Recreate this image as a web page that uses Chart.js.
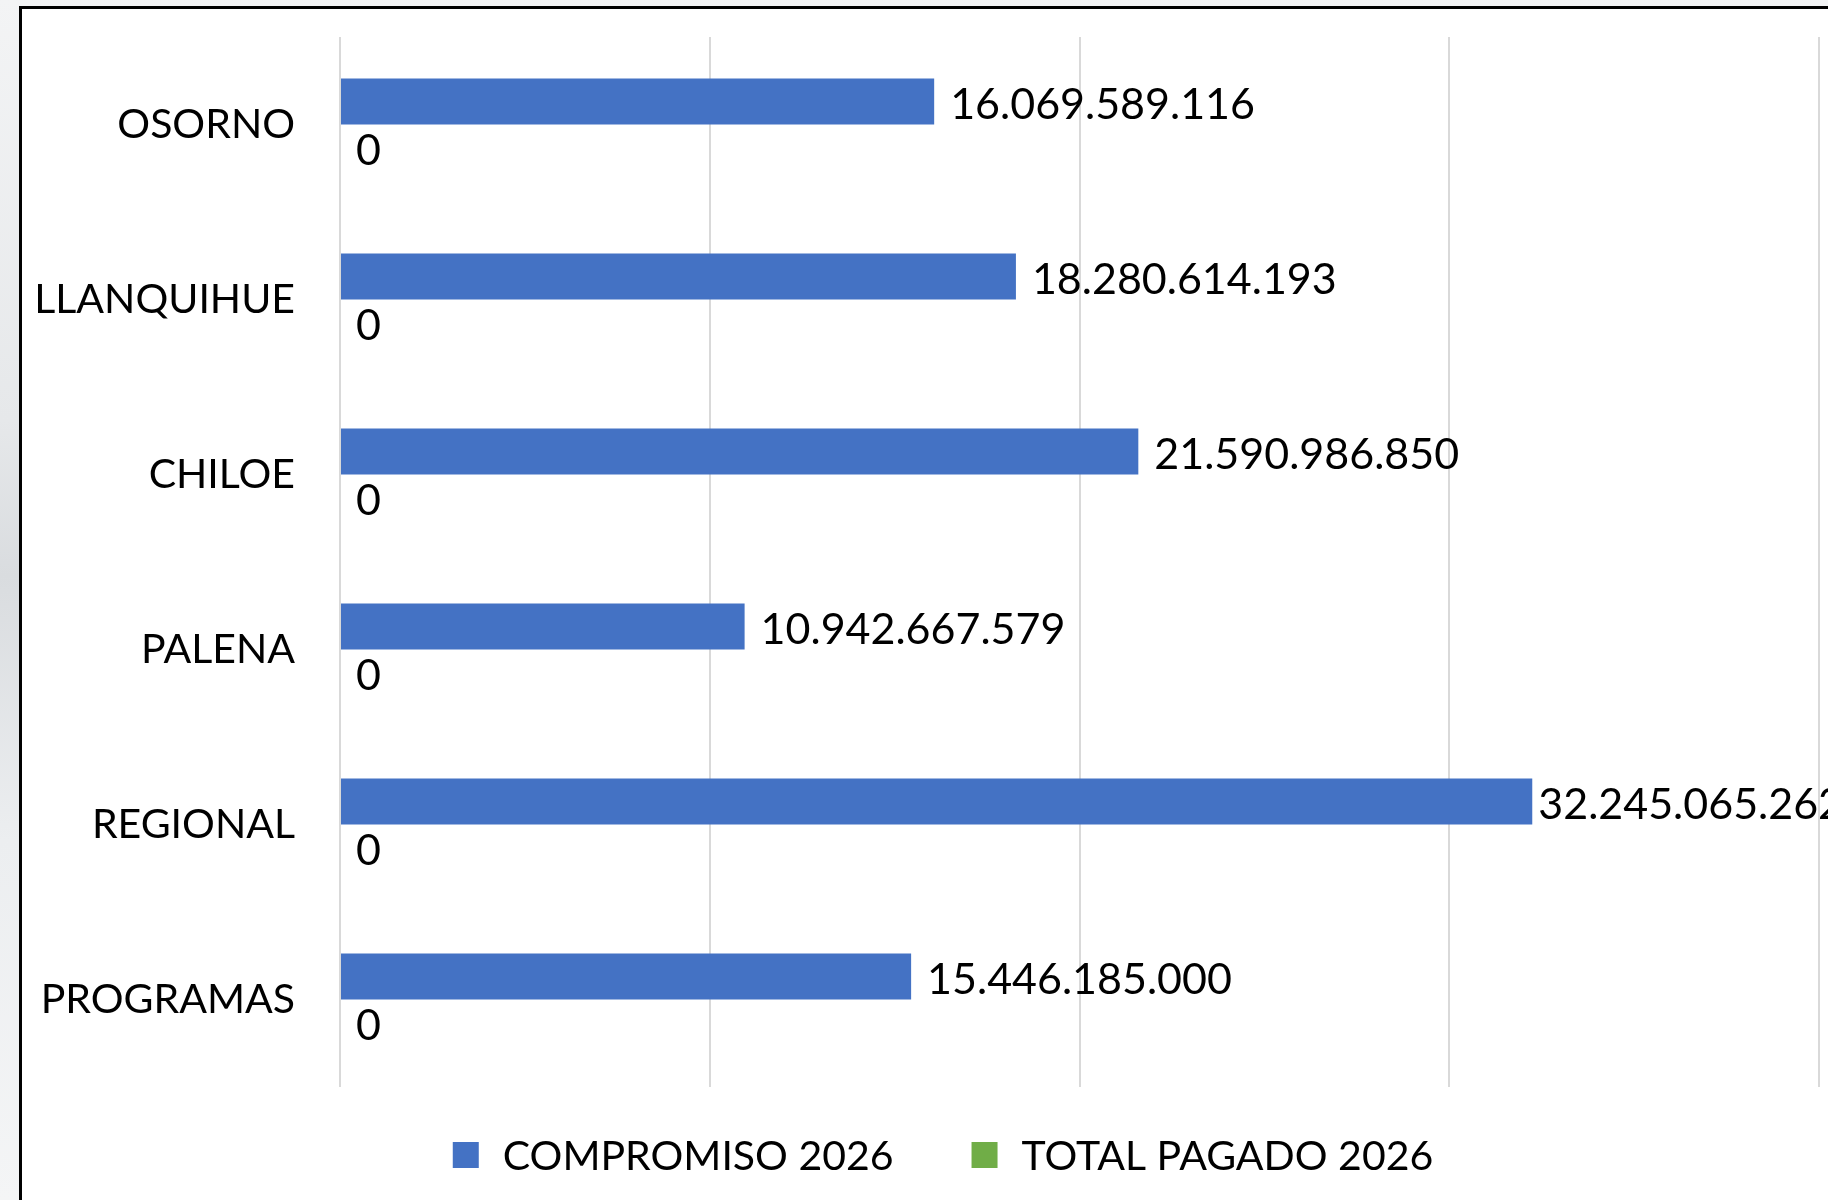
<!DOCTYPE html>
<html>
<head>
<meta charset="utf-8">
<script src="https://cdn.jsdelivr.net/npm/chart.js@4.4.1/dist/chart.umd.min.js"></script>
<style>
    html, body { margin: 0; padding: 0; overflow: hidden; }
    body {
        width: 1828px; height: 1200px;
        background: linear-gradient(to bottom, #f3f4f5 0%, #e6e8ea 35%, #d9dcdf 48%, #eceef0 70%, #f4f5f6 100%);
        position: relative;
    }
    #frame {
        position: absolute; left: 19px; top: 6px; width: 1900px; height: 1300px;
        border-left: 3px solid #000; border-top: 3px solid #000; background: #fff;
    }
    #chart { position: absolute; left: 0; top: 0; }
</style>
</head>
<body>
<div id="frame"></div>
<canvas id="chart" width="1828" height="1200"></canvas>
<script>
var categories = ['OSORNO', 'LLANQUIHUE', 'CHILOE', 'PALENA', 'REGIONAL', 'PROGRAMAS'];
var compromiso2026 = [16069589116, 18280614193, 21590986850, 10942667579, 32245065262, 15446185000];
var pagado2026 = [0, 0, 0, 0, 0, 0];
var seriesNames = ['COMPROMISO 2026', 'TOTAL PAGADO 2026'];
var xTicks = [0, 10000000000, 20000000000, 30000000000, 40000000000];

var FONT = 'Lato, "Open Sans", sans-serif';

function fmt(v) {
    return String(Math.round(v)).replace(/\B(?=(\d{3})+(?!\d))/g, '.');
}

// value labels right of each bar end
var barLabels = {
    id: 'barLabels',
    afterDatasetsDraw: function(chart) {
        var ctx = chart.ctx;
        ctx.save();
        ctx.font = '43px ' + FONT;
        ctx.fillStyle = '#000';
        ctx.textAlign = 'left';
        ctx.textBaseline = 'middle';
        chart.data.datasets.forEach(function(ds, di) {
            var meta = chart.getDatasetMeta(di);
            meta.data.forEach(function(bar, i) {
                var txt = fmt(ds.data[i]);
                var off = 16;
                // excel pulls labels closer when they run off the edge
                if (bar.x + off + ctx.measureText(txt).width > chart.width) off = 6;
                ctx.fillText(txt, bar.x + off, bar.y + 4);
            });
        });
        ctx.restore();
    }
};

// legend drawn under the plot like the original
var bottomLegend = {
    id: 'bottomLegend',
    afterDraw: function(chart) {
        var ctx = chart.ctx;
        ctx.save();
        ctx.font = '41px ' + FONT;
        ctx.textBaseline = 'middle';
        var box = 26, gap = 24, between = 78, cy = 1155;
        var items = chart.data.datasets.map(function(ds) {
            return { text: ds.label, color: ds.backgroundColor, w: ctx.measureText(ds.label).width };
        });
        var total = 0;
        items.forEach(function(it, i) { total += box + gap + it.w + (i ? between : 0); });
        var x = 943 - total / 2;
        items.forEach(function(it) {
            ctx.fillStyle = it.color;
            ctx.fillRect(x, cy - box / 2, box, box);
            ctx.fillStyle = '#000';
            ctx.fillText(it.text, x + box + gap, cy + 2);
            x += box + gap + it.w + between;
        });
        ctx.restore();
    }
};

var chart = new Chart(document.getElementById('chart').getContext('2d'), {
    type: 'bar',
    data: {
        labels: categories,
        datasets: [
            { label: seriesNames[0], data: compromiso2026, backgroundColor: '#4472C4', borderWidth: 0 },
            { label: seriesNames[1], data: pagado2026, backgroundColor: '#70AD47', borderWidth: 0 }
        ]
    },
    options: {
        indexAxis: 'y',
        responsive: false,
        animation: false,
        devicePixelRatio: 1,
        categoryPercentage: 0.526,
        barPercentage: 1,
        layout: { padding: { left: 0, right: 9, top: 37, bottom: 113 } },
        plugins: { legend: { display: false }, tooltip: { enabled: false } },
        scales: {
            x: {
                min: xTicks[0], max: xTicks[xTicks.length - 1],
                afterBuildTicks: function(axis) { axis.ticks = xTicks.map(function(v) { return { value: v }; }); },
                ticks: { display: false },
                border: { display: false },
                grid: { color: '#d9d9d9', lineWidth: 2, drawTicks: false },
                afterFit: function(axis) { axis.height = 0; axis.paddingLeft = 0; axis.paddingRight = 0; }
            },
            y: {
                grid: { display: false, drawTicks: false },
                border: { display: false },
                ticks: { color: '#000', font: { family: FONT, size: 41 }, padding: 45 },
                afterFit: function(axis) { axis.width = 340; axis.paddingTop = 0; axis.paddingBottom = 0; }
            }
        }
    },
    plugins: [barLabels, bottomLegend]
});
</script>
</body>
</html>
